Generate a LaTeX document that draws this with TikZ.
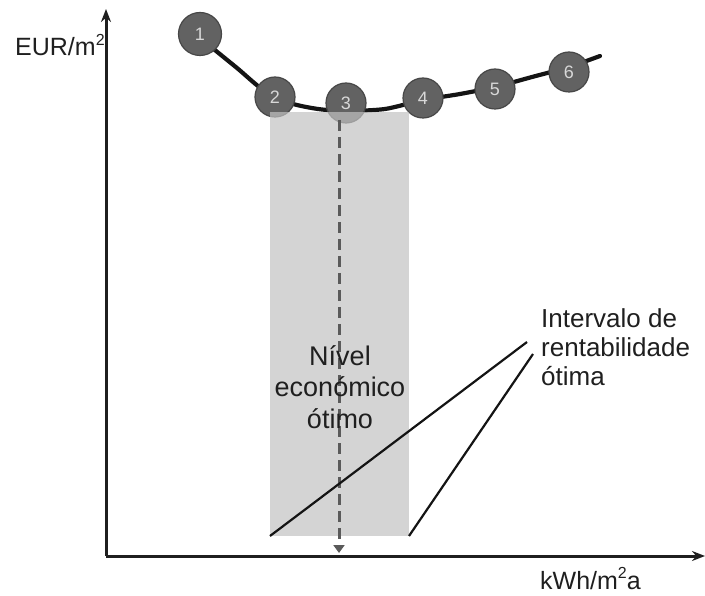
\documentclass[tikz,border=0pt]{standalone}
\usepackage{fontspec}
\setmainfont{Liberation Sans}
\usetikzlibrary{arrows.meta}
\definecolor{ballfill}{HTML}{626262}
\definecolor{balledge}{HTML}{474747}
\definecolor{balltext}{HTML}{D8D8D8}
\definecolor{rectfill}{HTML}{C2C2C2}
\definecolor{dashcol}{HTML}{5A5A5A}
\newcommand{\supsq}{\raisebox{0.42em}{\fontsize{16}{16}\selectfont 2}}
\tikzset{
  ball/.style={circle, fill=ballfill, draw=balledge, line width=1.2pt, minimum size=40pt, inner sep=0pt,
    text=balltext, font=\fontsize{18}{18}\selectfont},
  axis/.style={line width=3pt, draw=black!88, -{Stealth[length=13pt,width=10pt]}},
  lbl/.style={font=\fontsize{25}{29}\selectfont, inner sep=0pt, text=black!88},
  bigtxt/.style={font=\fontsize{27}{31.5}\selectfont, inner sep=0pt, text=black!88, align=center},
  pointer/.style={line width=2.2pt, draw=black!92},
}
\begin{document}
\begin{tikzpicture}[x=1pt,y=-1pt]
\useasboundingbox (0,0) rectangle (705,596);
% axes
\coordinate (origin) at (106,556);
\coordinate (ytip) at (106,9);
\coordinate (xtip) at (705,556);
\draw[axis] (origin) -- (ytip);
\draw[axis] (origin) -- (xtip);
\node[lbl, anchor=base west] (ylab) at (15,56) {EUR/m\supsq};
\node[lbl, anchor=base west] (xlab) at (540,589) {kWh/m\supsq a};
% cost curve
\draw[line width=4.2pt, black!92, line cap=round]
  plot[smooth, tension=0.45] coordinates {(200,38) (237,68) (262,89) (290,103) (318,109) (346,111) (385,109) (423,100) (460,94) (495,87) (532,77) (569,67) (600,56)};
% balls
\node[ball, minimum size=43pt] (b1) at (200,34) {1};
\node[ball] (b2) at (275,97) {2};
\node[ball] (b3) at (346,103) {3};
\node[ball] (b4) at (423,98) {4};
\node[ball] (b5) at (495,89) {5};
\node[ball] (b6) at (569,72) {6};
% optimal range rectangle
\coordinate (rtl) at (270,112);
\coordinate (rbl) at (270,536);
\coordinate (rbr) at (409,536);
\fill[rectfill, fill opacity=0.7] (rtl) rectangle (rbr);
% dashed optimum line
\coordinate (dtop) at (339,120);
\coordinate (dbot) at (339,553);
\draw[line width=3pt, dashcol, dash pattern=on 11pt off 6pt, -{Triangle[length=8pt,width=11pt]}] (dtop) -- (dbot);
% texts
\node[bigtxt] (opt) at (340,387) {Nível\\económico\\ótimo};
\node[lbl, anchor=west, align=left, font=\fontsize{26}{29}\selectfont] (range) at (541,347) {Intervalo de\\rentabilidade\\ótima};
% pointers
\coordinate (p1) at (527,342);
\coordinate (p2) at (533,354);
\draw[pointer] (rbl) -- (p1);
\draw[pointer] (rbr) -- (p2);
\end{tikzpicture}
\end{document}
